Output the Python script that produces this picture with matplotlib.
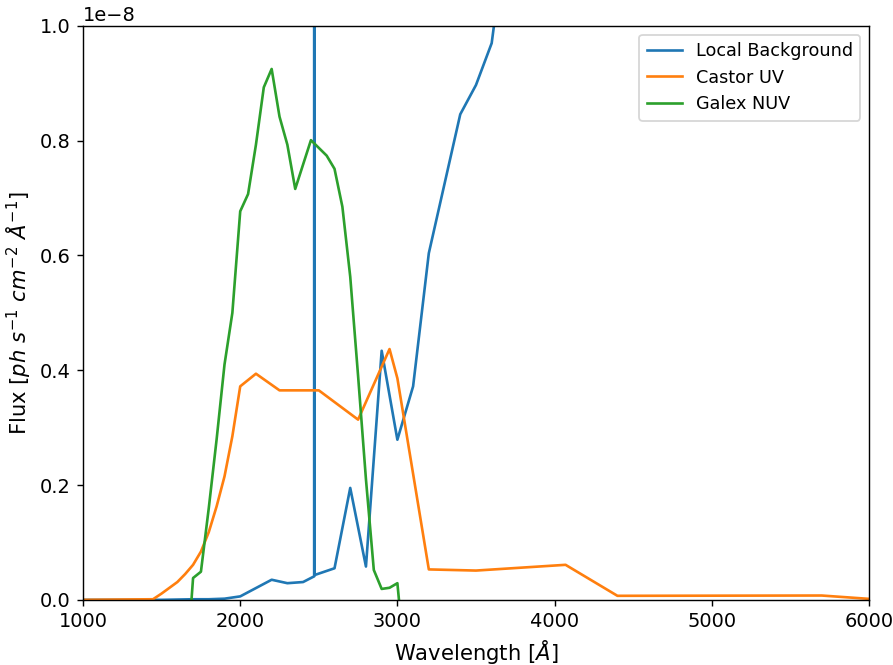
#!/usr/bin/env python3

import numpy as np
import matplotlib
matplotlib.use("Agg")
import matplotlib.pyplot as plt

# flux values in units of 1e-8 ph s^-1 cm^-2 A^-1
bg_wave = [1000, 1500, 1700, 1800, 1900, 2000, 2200, 2300, 2400, 2471, 2471, 2471,
           2600, 2700, 2800, 2900, 3000, 3100, 3200, 3300, 3400, 3500, 3600,
           3700, 4000, 4500, 5000, 5500, 6000]
bg_flux = [0.0, 0.0, 0.001, 0.001, 0.002, 0.006, 0.035, 0.029, 0.031, 0.041, 40.0, 0.043,
           0.055, 0.195, 0.058, 0.434, 0.279, 0.372, 0.604, 0.725, 0.846, 0.897, 0.970,
           1.18, 1.6, 2.1, 2.5, 2.8, 3.0]

castor_wave = [1000, 1445, 1500, 1550, 1600, 1650, 1700, 1750, 1800, 1850, 1900, 1950,
               2000, 2100, 2250, 2500, 2750, 2950, 3000, 3200, 3500, 4070, 4400, 5700, 6000]
castor_flux = [0.0, 0.001, 0.011, 0.021, 0.031, 0.045, 0.061, 0.084, 0.118, 0.163, 0.215, 0.285,
               0.372, 0.394, 0.365, 0.365, 0.314, 0.437, 0.386, 0.053, 0.051, 0.061, 0.007, 0.0075, 0.0017]

galex_wave = [1690, 1700, 1750, 1800, 1850, 1900, 1950, 2000, 2050, 2100, 2150, 2200,
              2250, 2300, 2350, 2450, 2550, 2600, 2650, 2700, 2750, 2800, 2850,
              2900, 2950, 3000, 3010]
galex_flux = [0.0, 0.038, 0.049, 0.16, 0.28, 0.41, 0.50, 0.677, 0.707, 0.793, 0.893, 0.925,
              0.842, 0.793, 0.716, 0.801, 0.774, 0.751, 0.685, 0.563, 0.39, 0.21, 0.052,
              0.019, 0.021, 0.029, 0.0]


def main():
    dpi = 127
    plt.rcParams["xtick.labelsize"] = 11
    plt.rcParams["ytick.labelsize"] = 11
    fig, ax = plt.subplots(figsize=(893 / dpi, 665 / dpi), dpi=dpi)
    fig.subplots_adjust(left=0.093, right=0.973, bottom=0.098, top=0.961)

    ax.plot(bg_wave, np.array(bg_flux) * 1e-8, label="Local Background")
    ax.plot(castor_wave, np.array(castor_flux) * 1e-8, label="Castor UV")
    ax.plot(galex_wave, np.array(galex_flux) * 1e-8, label="Galex NUV")

    ax.set_xlim(1000, 6000)
    ax.set_ylim(0, 1e-8)
    ax.yaxis.get_offset_text().set_fontsize(11)
    ax.set_xlabel(r"Wavelength [$\AA$]", fontsize=12)
    ax.set_ylabel(r"Flux [$ph\ s^{-1}\ cm^{-2}\ \AA^{-1}$]", fontsize=12)
    ax.legend(loc="upper right", fontsize=10)

    fig.savefig("out.png", dpi=dpi)


if __name__ == "__main__":
    main()
